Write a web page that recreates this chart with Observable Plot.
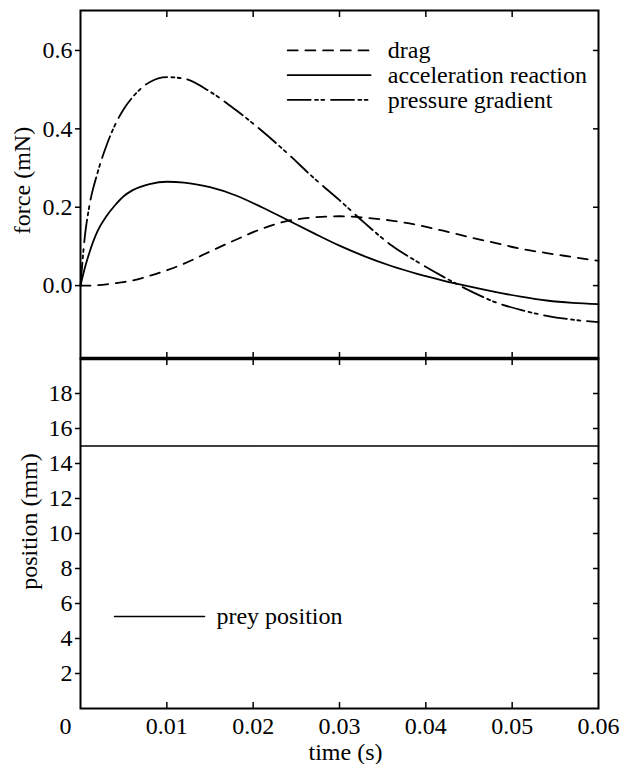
<!DOCTYPE html>
<html><head><meta charset="utf-8">
<script src="https://cdn.jsdelivr.net/npm/d3@7"></script>
<script src="https://cdn.jsdelivr.net/npm/@observablehq/plot@0.6"></script>
<style>
body{margin:0;background:#fff;}
#chart{position:relative;width:622px;height:764px;}
#chart svg{position:absolute;left:0;top:0;background:transparent;}
</style></head><body><div id="chart"></div>
<script>
// time (s)
const time = [0, 0.0005, 0.001, 0.002, 0.003, 0.004, 0.005, 0.006, 0.008, 0.010, 0.012, 0.015, 0.018, 0.021, 0.024, 0.027, 0.030, 0.033, 0.036, 0.039, 0.042, 0.045, 0.048, 0.051, 0.054, 0.057, 0.060];
// forces (mN)
const drag     = [0, 0, 0, 0.001, 0.003, 0.006, 0.009, 0.013, 0.025, 0.039, 0.056, 0.087, 0.117, 0.145, 0.165, 0.174, 0.177, 0.173, 0.166, 0.155, 0.140, 0.124, 0.109, 0.094, 0.083, 0.073, 0.063];
const accel    = [0, 0.045, 0.082, 0.140, 0.177, 0.205, 0.228, 0.243, 0.259, 0.265, 0.263, 0.251, 0.230, 0.200, 0.167, 0.134, 0.102, 0.074, 0.050, 0.030, 0.013, -0.002, -0.016, -0.028, -0.038, -0.044, -0.047];
const pressure = [0, 0.125, 0.200, 0.290, 0.357, 0.410, 0.450, 0.480, 0.519, 0.532, 0.528, 0.495, 0.448, 0.395, 0.337, 0.275, 0.218, 0.158, 0.103, 0.061, 0.023, -0.012, -0.042, -0.062, -0.077, -0.087, -0.093];
// prey position (mm)
const preyTime = [0, 0.06];
const preyPos = [15, 15];

const seriesNames = ["drag", "acceleration reaction", "pressure gradient"];
const seriesDash = ["10,7.7", null, "23,4.3,3,3.3,3,6.7"];
const xTicks = [0.01, 0.02, 0.03, 0.04, 0.05, 0.06];
const xInnerTicks = [0.01, 0.02, 0.03, 0.04, 0.05];
const forceTicks = [0, 0.2, 0.4, 0.6];
const posTicks = [2, 4, 6, 8, 10, 12, 14, 16, 18];

// legend anchors (data units)
const legendX = [0.0240, 0.0336];
const legendTextX = 0.0356;
const legendY = [0.600, 0.537, 0.474];
const preyLegendX = [0.00394, 0.01436];
const preyLegendTextX = 0.01575;
const preyLegendY = 5.26;

const values = [drag, accel, pressure];
const font = "'Liberation Serif', 'Times New Roman', serif";
const style = {fontFamily: font, fontSize: "24px", background: "transparent", overflow: "visible", color: "black"};
const W = 622, H = 764;
const blank = () => "";

const lineMarks = seriesNames.map((name, i) =>
  Plot.line(time.map((t, j) => ({t, v: values[i][j]})), {
    x: "t", y: "v", stroke: "black", strokeWidth: 1.8,
    strokeDasharray: seriesDash[i], curve: "monotone-x"
  })
);
const legendMarks = seriesNames.flatMap((name, i) => [
  Plot.line(legendX.map(x => ({x, y: legendY[i]})), {x: "x", y: "y", stroke: "black", strokeWidth: 1.8, strokeDasharray: seriesDash[i]}),
  Plot.text([name], {x: legendTextX, y: legendY[i], text: d => d, textAnchor: "start", fontSize: 24})
]);

const innerTicks = (xt, yt) => [
  Plot.axisY(yt, {anchor: "right", tickSize: -6, tickFormat: blank, label: null, strokeWidth: 1.5}),
  Plot.axisX(xt, {anchor: "top", tickSize: -6, tickFormat: blank, label: null, strokeWidth: 1.5}),
  Plot.axisX(xt, {anchor: "bottom", tickSize: -6, tickFormat: blank, label: null, strokeWidth: 1.5})
];

const topPlot = Plot.plot({
  width: W, height: H, marginLeft: 80, marginRight: 24, marginTop: 10, marginBottom: 406,
  style,
  x: {domain: [0, 0.06]},
  y: {domain: [-0.186, 0.702]},
  marks: [
    ...lineMarks,
    ...legendMarks,
    Plot.axisY(forceTicks, {anchor: "left", tickSize: 5, tickPadding: 3, tickFormat: d3.format(".1f"), label: null, strokeWidth: 1.5, fontSize: 24}),
    ...innerTicks(xInnerTicks, forceTicks),
    Plot.frame({stroke: "black", strokeWidth: 2}),
    Plot.text(["force (mN)"], {frameAnchor: "left", dx: -58, dy: -4, rotate: -90, textAnchor: "middle", lineAnchor: "middle", fontSize: 24})
  ]
});

const bottomPlot = Plot.plot({
  width: W, height: H, marginLeft: 80, marginRight: 24, marginTop: 358, marginBottom: 56,
  style,
  x: {domain: [0, 0.06]},
  y: {domain: [0, 20]},
  marks: [
    Plot.line(preyTime.map((t, j) => ({t, v: preyPos[j]})), {x: "t", y: "v", stroke: "black", strokeWidth: 1.5}),
    Plot.line(preyLegendX.map(x => ({x, y: preyLegendY})), {x: "x", y: "y", stroke: "black", strokeWidth: 1.5}),
    Plot.text(["prey position"], {x: preyLegendTextX, y: preyLegendY, text: d => d, textAnchor: "start", fontSize: 24}),
    Plot.axisY(posTicks, {anchor: "left", tickSize: 5, tickPadding: 3, label: null, strokeWidth: 1.5, fontSize: 24}),
    ...innerTicks(xInnerTicks, posTicks),
    Plot.axisX(xTicks, {anchor: "bottom", tickSize: 0, tickPadding: 8, tickFormat: d3.format(".2f"), label: null, fontSize: 24}),
    Plot.text([0], {x: d => d, frameAnchor: "bottom", dy: 18, dx: -15, text: () => "0", textAnchor: "middle", lineAnchor: "middle", fontSize: 24}),
    Plot.frame({stroke: "black", strokeWidth: 2}),
    Plot.ruleY([20], {stroke: "black", strokeWidth: 3.5}),
    Plot.text(["position (mm)"], {frameAnchor: "left", dx: -51, dy: -12, rotate: -90, textAnchor: "middle", lineAnchor: "middle", fontSize: 24}),
    Plot.text(["time (s)"], {frameAnchor: "bottom", dx: 6, dy: 44, textAnchor: "middle", lineAnchor: "middle", fontSize: 24})
  ]
});

const chart = document.getElementById("chart");
chart.appendChild(bottomPlot);
chart.appendChild(topPlot);
</script>
</body></html>
